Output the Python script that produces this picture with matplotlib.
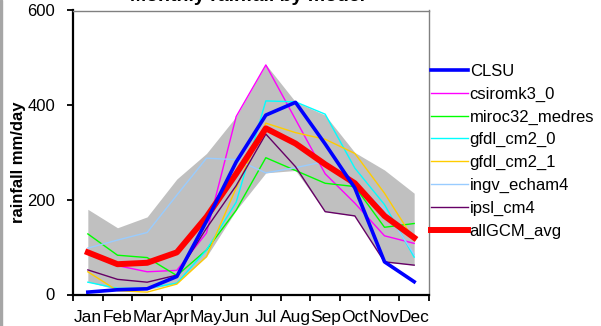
import matplotlib
matplotlib.use('Agg')
import matplotlib.pyplot as plt
from matplotlib import rcParams
from matplotlib.patches import Rectangle
from matplotlib.ticker import FixedLocator

config = {"font.family": ['Liberation Sans', 'DejaVu Sans'],
          "font.size": 12}
rcParams.update(config)

# monthly rainfall (mm/day)
months = ['Jan', 'Feb', 'Mar', 'Apr', 'May', 'Jun',
          'Jul', 'Aug', 'Sep', 'Oct', 'Nov', 'Dec']
clsu = [5, 10, 12, 38, 155, 280, 379, 406, 318, 225, 69, 27]
csiromk3_0 = [92, 61, 48, 51, 130, 376, 485, 370, 255, 193, 124, 108]
miroc32_medres = [128, 83, 78, 40, 94, 178, 289, 262, 235, 228, 142, 150]
gfdl_cm2_0 = [26, 13, 13, 24, 94, 195, 409, 407, 381, 267, 190, 79]
gfdl_cm2_1 = [48, 8, 5, 22, 80, 225, 362, 342, 328, 298, 214, 115]
ingv_echam4 = [98, 115, 131, 210, 288, 285, 257, 268, 281, 235, 180, 85]
ipsl_cm4 = [52, 32, 26, 41, 140, 230, 339, 270, 175, 166, 69, 62]
allgcm_avg = [89, 64, 67, 89, 164, 255, 351, 319, 275, 235, 166, 120]
band_hi = [180, 141, 164, 244, 298, 376, 486, 407, 379, 300, 263, 214]
band_lo = [27, 10, 10, 24, 80, 178, 257, 262, 175, 166, 69, 62]

x = list(range(len(months)))

fig = plt.figure(figsize=(6.01, 3.26), dpi=100)
ax = fig.add_axes([73/601, 31.5/326, 356/601, 284/326])

ax.fill_between(x, band_lo, band_hi, color='#C0C0C0', linewidth=0, zorder=1)
ax.plot(x, csiromk3_0, color='#FF00FF', lw=1.0, label='csiromk3_0', zorder=2)
ax.plot(x, miroc32_medres, color='#00FF00', lw=1.0, label='miroc32_medres', zorder=2)
ax.plot(x, gfdl_cm2_0, color='#00FFFF', lw=1.0, label='gfdl_cm2_0', zorder=2)
ax.plot(x, gfdl_cm2_1, color='#FFCC00', lw=1.0, label='gfdl_cm2_1', zorder=2)
ax.plot(x, ingv_echam4, color='#99CCFF', lw=1.0, label='ingv_echam4', zorder=2)
ax.plot(x, ipsl_cm4, color='#660066', lw=1.0, label='ipsl_cm4', zorder=2)
ax.plot(x, allgcm_avg, color='#FF0000', lw=4.3, label='allGCM_avg', zorder=3)
ax.plot(x, clsu, color='#0000FF', lw=2.6, label='CLSU', zorder=4)

ax.set_xlim(-0.5, 11.5)
ax.set_ylim(0, 600)
ax.set_yticks([0, 200, 400, 600])
ax.set_xticks(x)
ax.set_xticklabels(months, fontsize=12.5)
ax.xaxis.set_minor_locator(FixedLocator([i - 0.5 for i in range(13)]))
ax.tick_params(axis='x', which='major', length=0, pad=11)
ax.tick_params(axis='x', which='minor', length=4, width=1.3, direction='out')
ax.tick_params(axis='y', length=4, width=1.3, direction='out', pad=9)

for side in ['left', 'bottom']:
    ax.spines[side].set_color('black')
    ax.spines[side].set_linewidth(1.6)
for side in ['top', 'right']:
    ax.spines[side].set_color('#808080')
    ax.spines[side].set_linewidth(1.0)

fig.text(19/601, 1 - 162.5/326, 'rainfall mm/day', rotation=90,
         ha='center', va='center', fontweight='bold', fontsize=12)

# title sits mostly above the visible frame
fig.text(247/601, 1 - 1/326, 'Monthly rainfall by model', ha='center',
         va='baseline', fontweight='bold', fontsize=14)

handles, labels = ax.get_legend_handles_labels()
order = ['CLSU', 'csiromk3_0', 'miroc32_medres', 'gfdl_cm2_0',
         'gfdl_cm2_1', 'ingv_echam4', 'ipsl_cm4', 'allGCM_avg']
hmap = dict(zip(labels, handles))
fig.legend([hmap[k] for k in order], order, loc='upper left',
           bbox_to_anchor=(431/601, 1 - 64/326), frameon=False,
           borderpad=0, borderaxespad=0, handlelength=2.2,
           handletextpad=0.12, labelspacing=0.46, fontsize=12)

fig.patches.append(Rectangle((0, 0), 2/601, 1, transform=fig.transFigure,
                             color='#A6A6A6', zorder=0))

plt.savefig('out.png', dpi=100)
